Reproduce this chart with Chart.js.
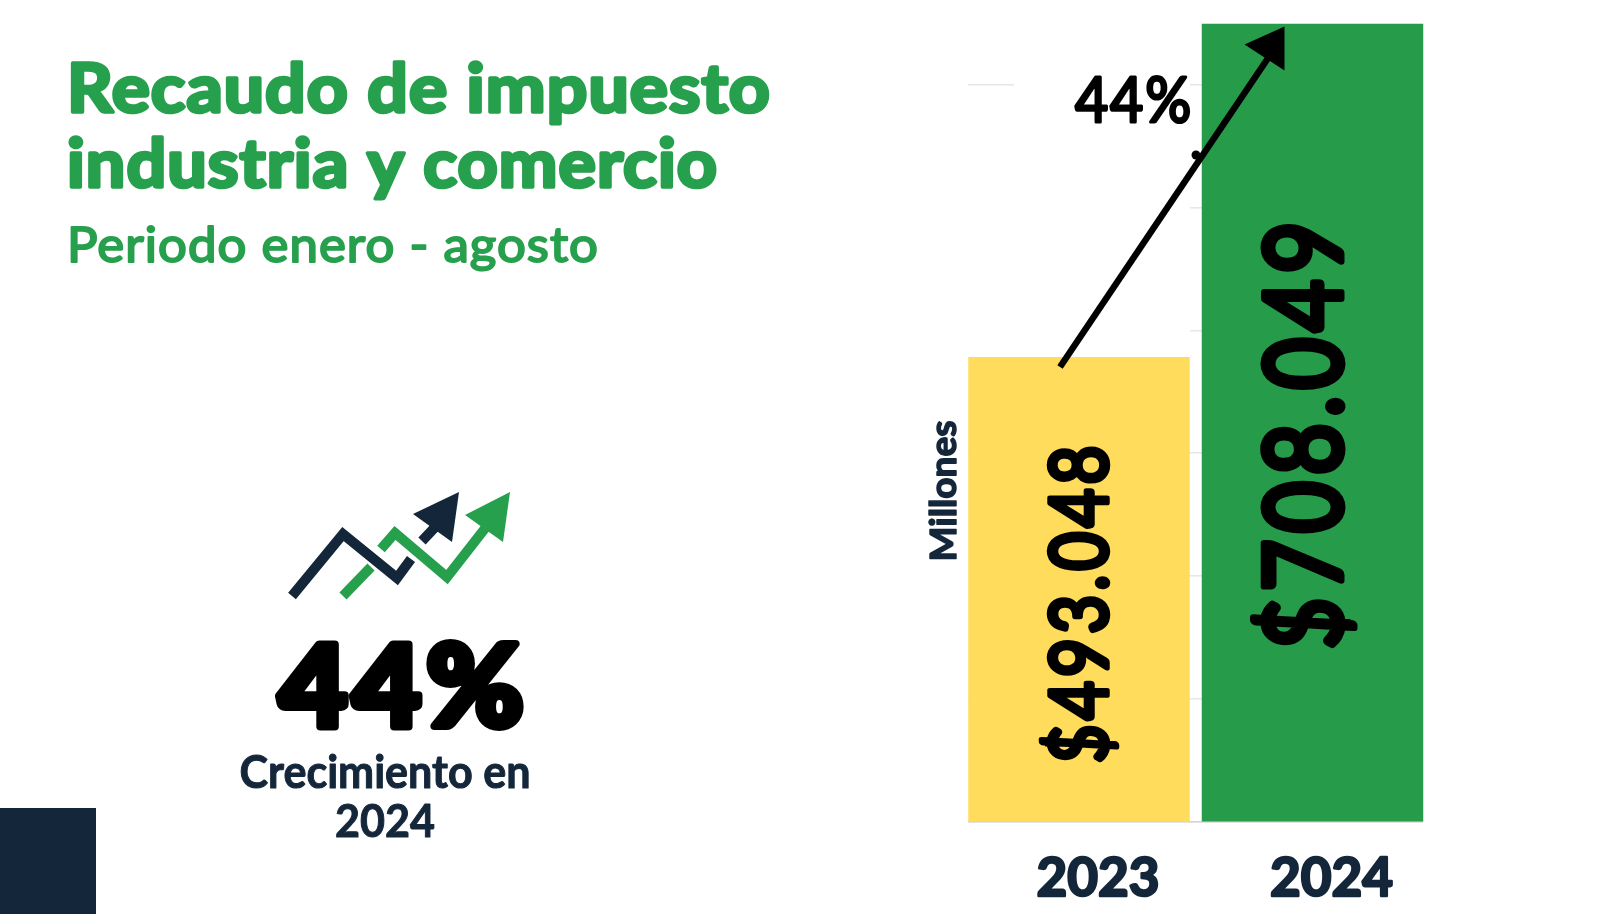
<!DOCTYPE html>
<html><head><meta charset="utf-8">
<style>html,body{margin:0;padding:0;background:#fff}canvas{display:block}</style>
<script src="https://cdn.jsdelivr.net/npm/chart.js@4"></script></head>
<body><canvas id="c" width="1600" height="914"></canvas>
<script>
const categories = ['2023', '2024'];
const recaudo = [493048, 708049];
const barColors = ['#FFDC5C', '#269C4A'];
const gridTicks = [193600, 272770, 351940, 431110, 510280, 589450, 668620];
const growthLabel = '44%';
const GREEN='#27A04D', DARK='#14263A';

function text(ctx,s,x,y,font,color,align,width,stroke,rot,ls){
  ctx.save();ctx.translate(x,y);if(rot)ctx.rotate(rot);
  ctx.font=font;ctx.fillStyle=color;ctx.strokeStyle=color;ctx.lineJoin='round';ctx.lineCap='round';
  ctx.letterSpacing=(ls||0)+'px';
  ctx.textAlign=align||'left';ctx.textBaseline='alphabetic';
  if(width){const w=ctx.measureText(s).width;ctx.scale(width/w,1);}
  if(stroke){ctx.lineWidth=stroke;ctx.strokeText(s,0,0);}
  ctx.fillText(s,0,0);ctx.restore();
}
function poly(ctx,pts,color,w){
  ctx.save();ctx.strokeStyle=color;ctx.lineWidth=w;ctx.lineJoin='miter';ctx.beginPath();
  pts.forEach((p,i)=>i?ctx.lineTo(p[0],p[1]):ctx.moveTo(p[0],p[1]));ctx.stroke();ctx.restore();
}
function tri(ctx,pts,color){
  ctx.save();ctx.fillStyle=color;ctx.beginPath();
  pts.forEach((p,i)=>i?ctx.lineTo(p[0],p[1]):ctx.moveTo(p[0],p[1]));ctx.closePath();ctx.fill();ctx.restore();
}
const fmt=v=>'$'+String(v).replace(/\B(?=(\d{3})+$)/g,'.');

const masks={id:'masks',beforeDraw(ch){ch.ctx.lineJoin='round';},beforeDatasetsDraw(ch){
  const c=ch.ctx;c.save();c.fillStyle='#fff';
  c.fillRect(955,0,13,830);c.fillRect(1423,0,15,830);
  c.fillRect(1014,70,176,30);c.fillRect(968,190,222,150);
  c.restore();
}};
const deco={id:'deco',afterDraw(ch){
  const c=ch.ctx, m=ch.getDatasetMeta(0).data, bottom=ch.chartArea.bottom;
  // left panel text
  text(c,'Recaudo de impuesto',67,112,'700 66px Lato',GREEN,'left',704,3.5,0,1);
  text(c,'industria y comercio',67,187,'700 66px Lato',GREEN,'left',651,3.5,0,1);
  text(c,'Periodo enero - agosto',67,262,'400 49px Lato',GREEN,'left',532,2,0,1);
  text(c,growthLabel,404,726,'900 112px Lato','#000','center',250,8,0,5);
  text(c,'Crecimiento en',385,788,'700 46px Lato',DARK,'center',291,1);
  text(c,'2024',385,837,'700 46px Lato',DARK,'center',100,1);
  c.fillStyle=DARK;c.fillRect(0,808,96,106);
  // icon
  poly(c,[[292,596],[343,534],[397,578],[411,559]],DARK,10);
  poly(c,[[343,596],[371,567]],GREEN,10);
  poly(c,[[381,549],[395,533],[447,577],[490,522]],GREEN,10);
  tri(c,[[465,515],[510,492],[503,542]],GREEN);
  poly(c,[[422,541],[440,522]],DARK,10);
  tri(c,[[413,514],[459,492],[452,542]],DARK);
  // axis title
  text(c,'Millones',956,491,'700 37px Lato',DARK,'center',141,1.5,-Math.PI/2);
  // bar value labels
  const sizes=[80,106], widths=[322,434], dx=[27.5,28], cy=[13,10], strokes=[5.5,7], spacing=[5,7];
  recaudo.forEach((v,i)=>{
    const b=m[i], mid=(b.y+bottom)/2+cy[i];
    text(c,fmt(v),b.x+dx[i],mid,`400 ${sizes[i]}px Lato`,'#000','center',widths[i],strokes[i],-Math.PI/2,spacing[i]);
  });
  // strokes through the dollar signs
  poly(c,[[m[0].x-34,745],[m[0].x+34,745]],'#000',3);
  poly(c,[[m[1].x-58,620.5],[m[1].x+38,620.5]],'#000',3);
  // growth arrow
  const x0=m[0].x-19,y0=m[0].y+10,x1=m[1].x-36,y1=m[1].y+22;
  poly(c,[[x0,y0],[x1,y1]],'#000',6.5);
  tri(c,[[m[1].x-28,m[1].y+3],[m[1].x-68,m[1].y+21],[m[1].x-28,m[1].y+47]],'#000');
  c.fillStyle='#000';c.beginPath();c.arc(1196,155,4.5,0,7);c.fill();
  text(c,growthLabel,1134,122,'400 62px Lato','#000','center',118,3,0,2);
}};
new Chart(document.getElementById('c'),{
  type:'bar',
  data:{labels:categories,datasets:[{data:recaudo,backgroundColor:barColors,borderWidth:0,barPercentage:0.9486,categoryPercentage:1}]},
  options:{
    responsive:false,animation:false,devicePixelRatio:1,
    layout:{padding:{left:962.25,right:170.75,top:23.5,bottom:0}},
    plugins:{legend:{display:false},title:{display:false},tooltip:{enabled:false}},
    scales:{
      x:{grid:{display:false},border:{color:'#d5d5d5',width:1.5},
         afterFit(s){s.height=92.5;},
         ticks:{color:DARK,font:{family:'Lato',weight:'700',size:53},padding:18,labelOffset:19,maxRotation:0,textStrokeColor:DARK,textStrokeWidth:2.5}},
      y:{min:193600,max:708049,display:true,
         afterBuildTicks(s){s.ticks=gridTicks.map(v=>({value:v}));},
         afterFit(s){s.width=0;},
         grid:{color:'#e6e6e6',lineWidth:1.5,drawTicks:false},border:{display:false},
         ticks:{display:false}}
    }
  },
  plugins:[masks,deco]
});
</script></body></html>
